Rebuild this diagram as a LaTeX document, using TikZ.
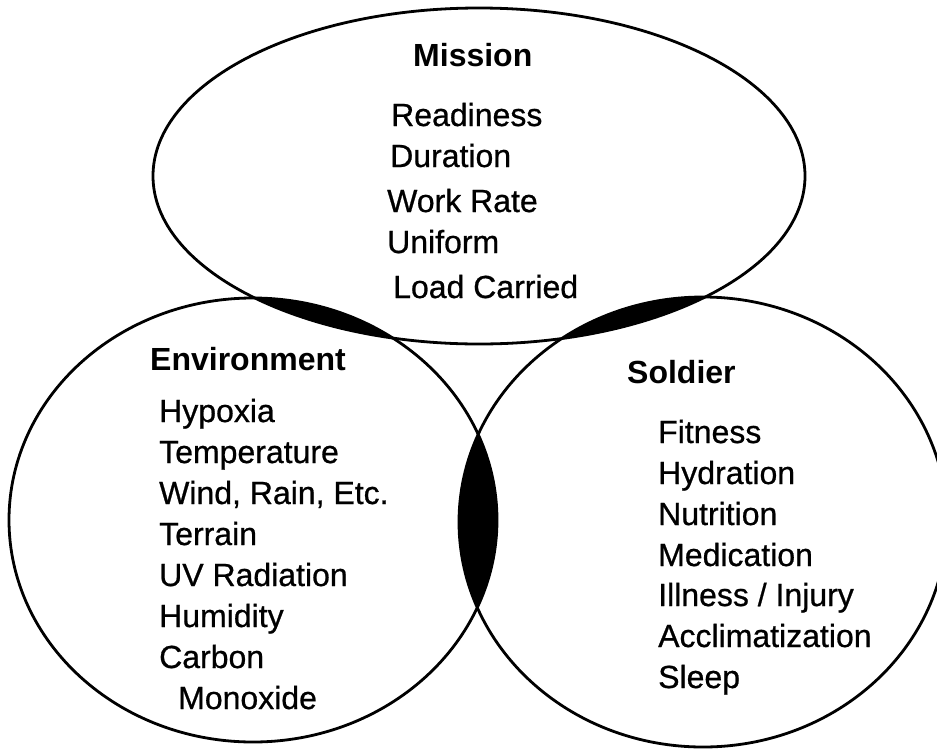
\documentclass[tikz,border=0pt]{standalone}
\usepackage{fontspec}
\setmainfont{Liberation Sans}
\newfontfamily\scanfont[FakeBold=0.7]{Liberation Sans}
\begin{document}
\begin{tikzpicture}[x=1pt,y=-1pt,
  txt/.style={inner sep=0pt,anchor=base west,font=\scanfont\fontsize{32}{38}\selectfont},
  head/.style={inner sep=0pt,anchor=base west,font=\fontsize{32}{38}\selectfont\bfseries},
  outline/.style={line width=2.8pt,draw=black}]
\useasboundingbox[fill=white] (0,0) rectangle (937,750);
% overlap lenses
\begin{scope}
  \clip (479,176) ellipse [x radius=326, y radius=168];
  \fill[black] (253,520) ellipse [x radius=244, y radius=222];
\end{scope}
\begin{scope}
  \clip (479,176) ellipse [x radius=326, y radius=168];
  \fill[black] (703,522) ellipse [x radius=244, y radius=225];
\end{scope}
\begin{scope}
  \clip (253,520) ellipse [x radius=244, y radius=222];
  \fill[black] (703,522) ellipse [x radius=244, y radius=225];
\end{scope}
% outlines
\draw[outline] (479,176) ellipse [x radius=326, y radius=168];
\draw[outline] (253,520) ellipse [x radius=244, y radius=222];
\draw[outline] (703,522) ellipse [x radius=244, y radius=225];
% Mission
\node[head] (mission) at (413,66) {Mission};
\node[txt] (readiness) at (391,126) {Readiness};
\node[txt] (duration) at (390,167) {Duration};
\node[txt] (workrate) at (387,212) {Work Rate};
\node[txt] (uniform) at (387,253) {Uniform};
\node[txt] (load) at (393,298) {Load Carried};
% Environment
\node[head] (env) at (150,370) {Environment};
\node[txt] (hypoxia) at (159,422) {Hypoxia};
\node[txt] (temp) at (159,463) {Temperature};
\node[txt] (wind) at (159,504) {Wind, Rain, Etc.};
\node[txt] (terrain) at (159,545) {Terrain};
\node[txt] (uv) at (159,586) {UV Radiation};
\node[txt] (humidity) at (159,627) {Humidity};
\node[txt] (carbon) at (159,668) {Carbon};
\node[txt] (monoxide) at (178,709) {Monoxide};
% Soldier
\node[head] (soldier) at (627,383) {Soldier};
\node[txt] (fitness) at (658,443) {Fitness};
\node[txt] (hydration) at (658,484) {Hydration};
\node[txt] (nutrition) at (658,525) {Nutrition};
\node[txt] (medication) at (658,566) {Medication};
\node[txt] (illness) at (658,606) {Illness / Injury};
\node[txt] (acclim) at (658,647) {Acclimatization};
\node[txt] (sleep) at (658,688) {Sleep};
\end{tikzpicture}
\end{document}
